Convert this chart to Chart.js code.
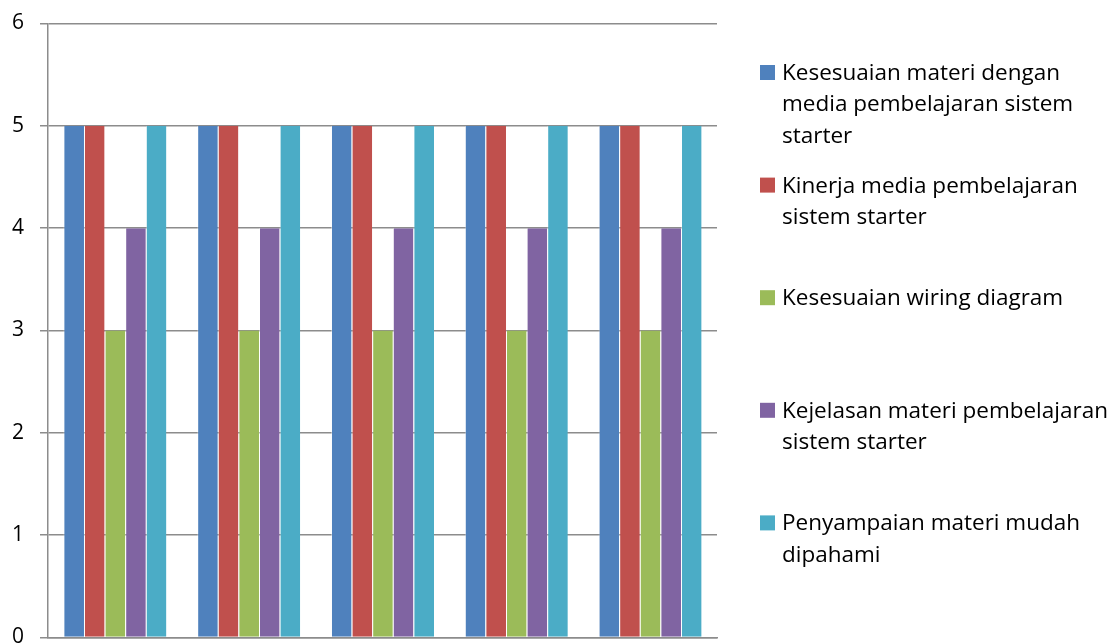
<!DOCTYPE html>
<html>
<head>
<meta charset="utf-8">
<script src="https://cdn.jsdelivr.net/npm/chart.js@4/dist/chart.umd.min.js"></script>
<style>
  html, body { margin: 0; padding: 0; background: #ffffff; }
  #wrap { position: relative; width: 1120px; height: 643px; }
</style>
</head>
<body>
<div id="wrap"><canvas id="chart" width="1120" height="643"></canvas></div>
<script>
// Groups along the horizontal axis (no labels shown)
const categories = ['1', '2', '3', '4', '5'];

// Series names, split into the lines used in the legend
const seriesLines = [
  ['Kesesuaian materi dengan', 'media pembelajaran sistem', 'starter'],
  ['Kinerja media pembelajaran', 'sistem starter'],
  ['Kesesuaian wiring diagram'],
  ['Kejelasan materi pembelajaran', 'sistem starter'],
  ['Penyampaian materi mudah', 'dipahami']
];

// Scores per series
const kesesuaianMateri = [5, 5, 5, 5, 5];
const kinerjaMedia     = [5, 5, 5, 5, 5];
const kesesuaianWiring = [3, 3, 3, 3, 3];
const kejelasanMateri  = [4, 4, 4, 4, 4];
const penyampaian      = [5, 5, 5, 5, 5];

// Y axis ticks
const yTicks = [0, 1, 2, 3, 4, 5, 6];

const seriesValues = [kesesuaianMateri, kinerjaMedia, kesesuaianWiring, kejelasanMateri, penyampaian];
const seriesColors = ['#4F81BD', '#C0504D', '#9BBB59', '#8064A2', '#4BACC6'];

const FONT = "'Open Sans', 'Noto Sans', sans-serif";
const GRID = '#8c8c8c';

// Legend drawn at the right of the plot, with multi-line labels
const sideLegend = {
  id: 'sideLegend',
  afterDraw(chart) {
    const ctx = chart.ctx;
    const boxX = 760, textX = 782, box = 15;
    const firstY = 72.5, step = 112.6, lineH = 31.5;
    ctx.save();
    ctx.font = '22.5px ' + FONT;
    ctx.textBaseline = 'middle';
    ctx.textAlign = 'left';
    chart.data.datasets.forEach((ds, i) => {
      const cy = firstY + i * step;
      ctx.fillStyle = ds.backgroundColor;
      ctx.fillRect(boxX, cy - box / 2, box, box);
      ctx.fillStyle = '#000000';
      seriesLines[i].forEach((line, j) => {
        ctx.fillText(line, textX, cy + j * lineH + 1);
      });
    });
    ctx.restore();
  }
};

function draw() {
  new Chart(document.getElementById('chart'), {
    type: 'bar',
    data: {
      labels: categories,
      datasets: seriesValues.map((vals, i) => ({
        label: seriesLines[i].join(' '),
        data: vals,
        backgroundColor: seriesColors[i],
        borderColor: 'rgba(255,255,255,0.4)',
        borderWidth: { left: 1, right: 0, top: 0, bottom: 0 },
        borderSkipped: false,
        categoryPercentage: 0.77,
        barPercentage: 1.0
      }))
    },
    options: {
      responsive: false,
      animation: false,
      devicePixelRatio: 1,
      layout: { padding: { left: 0, right: 403, top: 23.5, bottom: 5.5 } },
      plugins: {
        legend: { display: false },
        tooltip: { enabled: false }
      },
      scales: {
        x: {
          afterFit(scale) {
            scale.height = 0;
            scale.paddingLeft = scale.paddingRight = 0;
          },
          ticks: { display: false },
          grid: { display: false },
          border: { display: true, color: GRID, width: 1.5 }
        },
        y: {
          min: 0,
          max: 6,
          afterBuildTicks(scale) {
            scale.ticks = yTicks.map(v => ({ value: v }));
          },
          afterFit(scale) {
            scale.width = 48;
            scale.paddingTop = scale.paddingBottom = 0;
          },
          ticks: {
            color: '#000000',
            font: { family: FONT, size: 21 },
            padding: 16
          },
          grid: {
            color: GRID,
            lineWidth: 1.5,
            tickLength: 8,
            drawTicks: true
          },
          border: { display: true, color: GRID, width: 1.5 }
        }
      }
    },
    plugins: [sideLegend]
  });
}

Promise.all([
  document.fonts.load('21px "Open Sans"'),
  document.fonts.load('22.5px "Open Sans"')
]).then(draw, draw);
</script>
</body>
</html>
